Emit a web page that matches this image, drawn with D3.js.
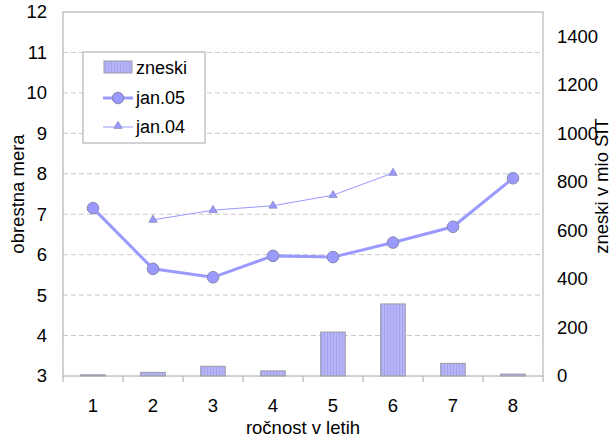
<!DOCTYPE html>
<html><head><meta charset="utf-8">
<script src="https://cdn.jsdelivr.net/npm/d3@7"></script>
<style>body{margin:0;background:#fff}svg{display:block}text{font-family:"Liberation Sans",Arial,sans-serif;fill:#000}</style>
</head><body><svg id="c" width="613" height="438"></svg>
<script>
const categories = ["1","2","3","4","5","6","7","8"];
const zneski = [5, 15, 40, 21, 181, 297, 52, 8];
const jan05 = [7.15, 5.65, 5.44, 5.97, 5.94, 6.30, 6.69, 7.89];
const jan04 = [null, 6.86, 7.10, 7.21, 7.47, 8.02, null, null];
const leftTicks = [3,4,5,6,7,8,9,10,11,12];
const rightTicks = [0,200,400,600,800,1000,1200,1400];

const FS = 18.5;
const svg = d3.select("#c");
const L = 63, R = 543, T = 12, B = 376;
const x = d3.scaleBand().domain(categories).range([L, R]);
const yL = d3.scaleLinear().domain([3, 12]).range([B, T]);
const yR = d3.scaleLinear().domain([0, 1500]).range([B, T]);
const lineCol = "#9999ff";

const defs = svg.append("defs");
const pat = defs.append("pattern").attr("id","stripes").attr("patternUnits","userSpaceOnUse").attr("width",3).attr("height",4);
pat.append("rect").attr("width",3).attr("height",4).attr("fill","#b6b6f7");
pat.append("rect").attr("width",1).attr("height",4).attr("fill","#a2a2ee");

// gridlines
svg.append("g").selectAll("line").data(leftTicks.filter(d => d > 3 && d < 12)).join("line")
  .attr("x1", L).attr("x2", R).attr("y1", d => yL(d)).attr("y2", d => yL(d))
  .attr("stroke", "#c8c8c8").attr("stroke-dasharray", "5,3");

// bars
const bw = x.bandwidth() * 0.41;
svg.append("g").selectAll("rect").data(zneski).join("rect")
  .attr("x", (d,i) => x(categories[i]) + x.bandwidth()/2 - bw/2)
  .attr("width", bw)
  .attr("y", d => yR(d)).attr("height", d => B - yR(d))
  .attr("fill", "url(#stripes)").attr("stroke", "#9a9aa8").attr("stroke-width", 1);

// frame
svg.append("rect").attr("x", L).attr("y", T).attr("width", R-L).attr("height", B-T)
  .attr("fill","none").attr("stroke","#a6a6a6").attr("stroke-width",1);

// x axis ticks
const xb = categories.map(c => x(c)).concat([R]);
svg.append("g").selectAll("line").data(xb).join("line")
  .attr("x1", d => d).attr("x2", d => d).attr("y1", B).attr("y2", B + 6)
  .attr("stroke", "#a6a6a6");

// left labels
svg.append("g").selectAll("text").data(leftTicks).join("text")
  .attr("x", 47).attr("y", d => yL(d)).attr("dy", "0.35em").attr("text-anchor","end")
  .attr("font-size", FS).text(d => d);
// right labels
svg.append("g").selectAll("text").data(rightTicks).join("text")
  .attr("x", 557).attr("y", d => yR(d)).attr("dy", "0.35em").attr("text-anchor","start")
  .attr("font-size", FS).text(d => d);
// x labels
svg.append("g").selectAll("text").data(categories).join("text")
  .attr("x", d => x(d) + x.bandwidth()/2).attr("y", 412).attr("text-anchor","middle")
  .attr("font-size", FS).text(d => d);

svg.append("text").attr("x", (L+R)/2).attr("y", 434).attr("text-anchor","middle").attr("font-size",FS).text("ročnost v letih");
svg.append("text").attr("transform", `translate(24,194) rotate(-90)`).attr("text-anchor","middle").attr("font-size",FS).text("obrestna mera");
svg.append("text").attr("transform", `translate(608,186) rotate(-90)`).attr("text-anchor","middle").attr("font-size",FS).text("zneski v mio SIT");

// lines
const cx = i => x(categories[i]) + x.bandwidth()/2;
const line = d3.line().defined(d => d != null).x((d,i) => cx(i)).y(d => yL(d));
svg.append("path").datum(jan04).attr("d", line).attr("fill","none").attr("stroke", lineCol).attr("stroke-width",1);
svg.append("path").datum(jan05).attr("d", line).attr("fill","none").attr("stroke", lineCol).attr("stroke-width",3);

const tri = d3.symbol().type(d3.symbolTriangle).size(30);
svg.append("g").selectAll("path").data(jan04.map((v,i)=>({v,i})).filter(d => d.v != null)).join("path")
  .attr("d", tri).attr("transform", d => `translate(${cx(d.i)},${yL(d.v)})`)
  .attr("fill", lineCol).attr("stroke","#7777aa").attr("stroke-width",0.6);
svg.append("g").selectAll("circle").data(jan05).join("circle")
  .attr("cx", (d,i) => cx(i)).attr("cy", d => yL(d)).attr("r", 5.8)
  .attr("fill", lineCol).attr("stroke","#8888a8").attr("stroke-width",1);

// legend
const lg = svg.append("g");
lg.append("rect").attr("x", 83).attr("y", 52).attr("width", 122).attr("height", 91)
  .attr("fill","#fff").attr("stroke","#a6a6a6");
lg.append("rect").attr("x", 104).attr("y", 61).attr("width", 28).attr("height", 12)
  .attr("fill","url(#stripes)").attr("stroke","#9a9aa8");
lg.append("line").attr("x1",103).attr("x2",133).attr("y1",98).attr("y2",98).attr("stroke",lineCol).attr("stroke-width",3);
lg.append("circle").attr("cx",118).attr("cy",98).attr("r",5.8).attr("fill",lineCol).attr("stroke","#8888a8");
lg.append("line").attr("x1",103).attr("x2",133).attr("y1",127).attr("y2",127).attr("stroke",lineCol).attr("stroke-width",1);
lg.append("path").attr("d", tri).attr("transform","translate(118,126)").attr("fill",lineCol).attr("stroke","#7777aa").attr("stroke-width",0.6);
const legItems = ["zneski","jan.05","jan.04"];
lg.selectAll("text").data(legItems).join("text").attr("x",136).attr("y",(d,i)=>68+i*29.5).attr("dy","0.35em")
  .attr("font-size",18).text(d=>d);
</script></body></html>
